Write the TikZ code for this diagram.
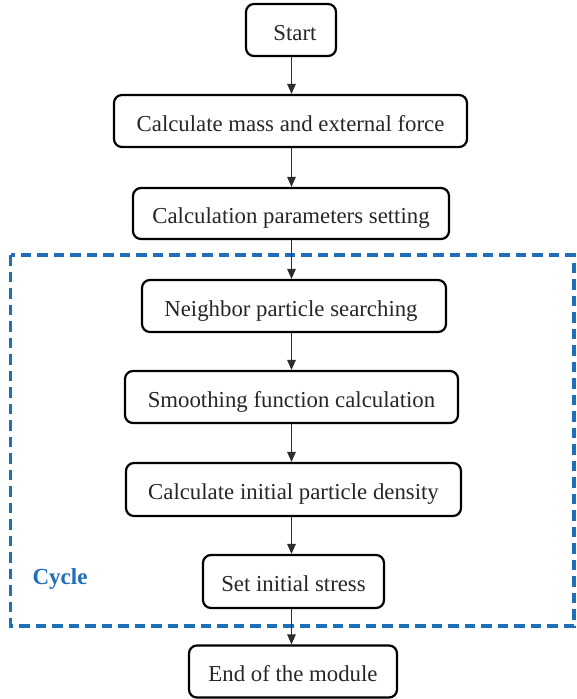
\documentclass[tikz,border=0pt]{standalone}
\usepackage{fontspec}
\setmainfont{Liberation Serif}
\usetikzlibrary{arrows.meta}
\definecolor{cycleblue}{RGB}{31,111,184}
\definecolor{arrowgray}{RGB}{45,45,45}
\begin{document}
\begin{tikzpicture}[x=1pt,y=-1pt,
  stepbox/.style={draw=black, line width=2.2pt, rounded corners=8pt,
    inner sep=0pt, text height=22pt, text depth=2pt,
    font=\fontsize{22.8}{27}\selectfont, text=black!85},
  arr/.style={draw=arrowgray, line width=1.3pt,
    -{Triangle[length=10pt,width=8.5pt]}},
  loopframe/.style={draw=cycleblue, line width=3.4pt, dash pattern=on 10.5pt off 6pt}]
\useasboundingbox (0,0) rectangle (576,699);

% the repeated part of the procedure
\draw[loopframe] (10.5,255) rectangle (573.8,626);
\node[font=\bfseries\fontsize{23}{27}\selectfont, text=cycleblue] (cyc) at (60,579) {Cycle};

% procedure steps
\node[stepbox, minimum width=90pt, minimum height=52pt] (s1) at (291,30) {\hspace*{8pt}Start};
\node[stepbox, minimum width=353pt, minimum height=52pt] (s2) at (290.5,121) {Calculate mass and external force};
\node[stepbox, minimum width=316pt, minimum height=51pt] (s3) at (291,213.5) {Calculation parameters setting};
\node[stepbox, minimum width=304pt, minimum height=52pt] (s4) at (294,306) {Neighbor particle searching\hspace*{6pt}};
\node[stepbox, minimum width=333pt, minimum height=52pt] (s5) at (291.5,397) {Smoothing function calculation};
\node[stepbox, minimum width=335pt, minimum height=53pt] (s6) at (293.5,489.5) {Calculate initial particle density};
\node[stepbox, minimum width=181pt, minimum height=53pt] (s7) at (293.5,581.5) {Set initial stress};
\node[stepbox, minimum width=208pt, minimum height=52pt] (s8) at (293,671.5) {End of the module};

% flow arrows along one vertical axis
\coordinate (axis) at (291.5,0);
\foreach \a/\b in {s1/s2,s2/s3,s3/s4,s4/s5,s5/s6,s6/s7,s7/s8}
  \draw[arr] (axis |- \a.south) -- (axis |- \b.north);
\end{tikzpicture}
\end{document}
